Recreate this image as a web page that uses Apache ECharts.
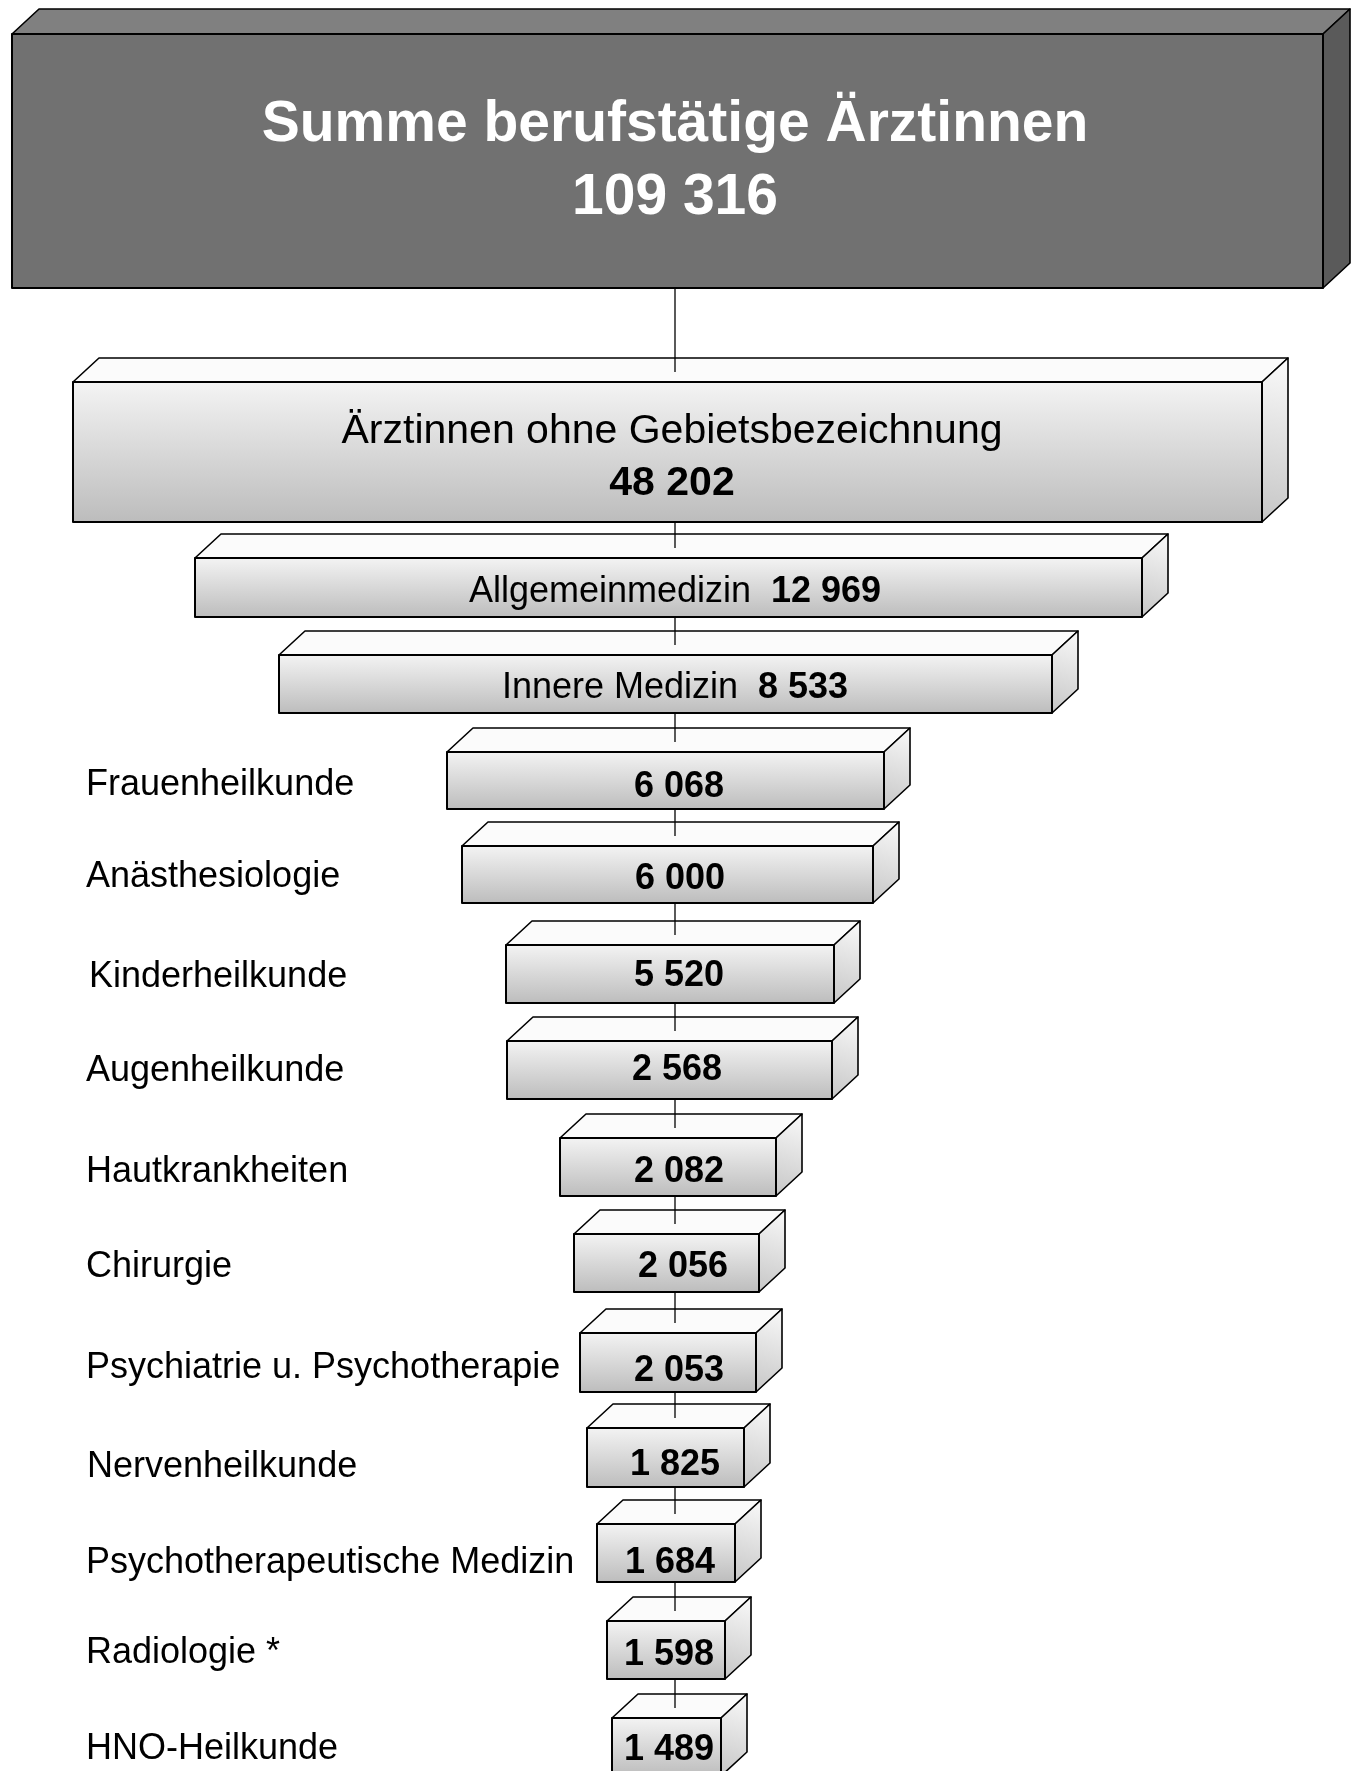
<!DOCTYPE html>
<html>
<head>
<meta charset="utf-8">
<script src="https://cdn.jsdelivr.net/npm/echarts@6/dist/echarts.min.js"></script>
<style>
  html, body { margin: 0; padding: 0; background: #fff; }
  #chart { width: 1360px; height: 1771px; }
</style>
</head>
<body>
<div id="chart"></div>
<script>
// Daten
const totalName = 'Summe berufstätige Ärztinnen'
const totalValue = 109316
const categories = [
  'Ärztinnen ohne Gebietsbezeichnung',
  'Allgemeinmedizin',
  'Innere Medizin',
  'Frauenheilkunde',
  'Anästhesiologie',
  'Kinderheilkunde',
  'Augenheilkunde',
  'Hautkrankheiten',
  'Chirurgie',
  'Psychiatrie u. Psychotherapie',
  'Nervenheilkunde',
  'Psychotherapeutische Medizin',
  'Radiologie *',
  'HNO-Heilkunde'
]
const values = [48202, 12969, 8533, 6068, 6000, 5520, 2568, 2082, 2056, 2053, 1825, 1684, 1598, 1489]

// Layout der Kästen (Pixel-Raster 1360 x 1771), Index 0 = Summe
const boxLeft = [12, 73, 195, 279, 447, 462, 506, 507, 560, 574, 580, 587, 597, 607, 612]
const boxRight = [1323, 1262, 1142, 1052, 884, 873, 834, 832, 776, 759, 756, 744, 735, 725, 721]
const boxTop = [34, 382, 558, 655, 752, 846, 945, 1041, 1138, 1234, 1333, 1428, 1524, 1621, 1718]
const boxBottom = [288, 522, 617, 713, 809, 903, 1003, 1099, 1196, 1292, 1392, 1487, 1582, 1679, 1776]
// Textpositionen (Mitte), Index wie oben
const textX = [675, 672, 675, 675, 679, 680, 679, 677, 679, 683, 679, 675, 670, 669, 669]
const textY = [125, 432, 592, 688, 787, 879, 976, 1070, 1172, 1267, 1371, 1465, 1563, 1655, 1750]
const sideX = [0, 0, 0, 0, 86, 86, 89, 86, 86, 86, 86, 87, 86, 86, 86]
const sideY = [0, 0, 0, 0, 785, 877, 977, 1071, 1172, 1267, 1368, 1467, 1563, 1653, 1749]
const lineX = 675
const font = 'Liberation Sans, Arial, Helvetica, sans-serif'

const fmt = v => String(v).replace(/\B(?=(\d{3})+(?!\d))/g, ' ')

const boxNames = [totalName].concat(categories)
const boxValues = [totalValue].concat(values)

function renderItem(params, api) {
  const i = api.value(0)
  const v = api.value(1)
  const p = (x, y) => api.coord([x, y])
  const L = boxLeft[i], R = boxRight[i], T = boxTop[i], B = boxBottom[i]
  const dx = i === 0 ? 27 : 26
  const dy = i === 0 ? 25 : 24
  const dark = i === 0
  const children = []

  const frontFill = dark ? '#717171' : new echarts.graphic.LinearGradient(0, 0, 0, 1, [
    { offset: 0, color: '#f4f4f4' },
    { offset: 1, color: '#bcbcbc' }
  ])
  const topFill = dark ? '#808080' : '#fbfbfb'
  const sideFill = dark ? '#5a5a5a' : new echarts.graphic.LinearGradient(0, 1, 1, 0, [
    { offset: 0, color: '#c6c6c6' },
    { offset: 1, color: '#fafafa' }
  ])
  const stroke = { stroke: '#000', lineWidth: 1.6, lineJoin: 'round' }

  children.push({
    type: 'polygon',
    shape: { points: [p(L, T), p(L + dx, T - dy), p(R + dx, T - dy), p(R, T)] },
    style: Object.assign({ fill: topFill }, stroke)
  })
  children.push({
    type: 'polygon',
    shape: { points: [p(R, T), p(R + dx, T - dy), p(R + dx, B - dy), p(R, B)] },
    style: Object.assign({ fill: sideFill }, stroke)
  })
  children.push({
    type: 'polygon',
    shape: { points: [p(L, T), p(R, T), p(R, B), p(L, B)] },
    style: Object.assign({ fill: frontFill }, stroke, { lineWidth: 2 })
  })

  // Verbindungslinie zum vorherigen Kasten
  if (i > 0) {
    const a = p(lineX, boxBottom[i - 1])
    const b = p(lineX, T - 10)
    children.push({
      type: 'line',
      shape: { x1: a[0], y1: a[1], x2: b[0], y2: b[1] },
      style: { stroke: '#000', lineWidth: 1.3 }
    })
  }

  const c = p(textX[i], textY[i])
  if (i === 0) {
    const c2 = p(textX[i], textY[i] + 73)
    children.push({ type: 'text', style: { text: boxNames[i], x: c[0], y: c[1], fill: '#fff', font: 'bold 57px ' + font, align: 'center', verticalAlign: 'middle' } })
    children.push({ type: 'text', style: { text: fmt(v), x: c2[0], y: c2[1], fill: '#fff', font: 'bold 57px ' + font, align: 'center', verticalAlign: 'middle' } })
  } else if (i === 1) {
    const c2 = p(textX[i], textY[i] + 52)
    children.push({ type: 'text', style: { text: boxNames[i], x: c[0], y: c[1], fill: '#000', font: '41px ' + font, align: 'center', verticalAlign: 'middle' } })
    children.push({ type: 'text', style: { text: fmt(v), x: c2[0], y: c2[1], fill: '#000', font: 'bold 41px ' + font, align: 'center', verticalAlign: 'middle' } })
  } else if (i <= 3) {
    children.push({
      type: 'text',
      style: {
        text: '{n|' + boxNames[i] + '}  {v|' + fmt(v) + '}',
        x: c[0], y: c[1], align: 'center', verticalAlign: 'middle',
        fill: '#000', fontSize: 36, fontFamily: font,
        rich: {
          n: { fontSize: 36, fontFamily: font, fill: '#000' },
          v: { fontSize: 36, fontFamily: font, fontWeight: 'bold', fill: '#000' }
        }
      }
    })
  } else {
    const l = p(sideX[i], sideY[i])
    children.push({ type: 'text', style: { text: fmt(v), x: c[0], y: c[1], fill: '#000', font: 'bold 36px ' + font, align: 'center', verticalAlign: 'middle' } })
    children.push({ type: 'text', style: { text: boxNames[i], x: l[0], y: l[1], fill: '#000', font: '36px ' + font, align: 'left', verticalAlign: 'middle' } })
  }

  return { type: 'group', children: children }
}

const chart = echarts.init(document.getElementById('chart'), null, { renderer: 'canvas' })
chart.setOption({
  backgroundColor: '#fff',
  animation: false,
  grid: { left: 0, right: 0, top: 0, bottom: 0 },
  xAxis: { type: 'value', min: 0, max: 1360, show: false },
  yAxis: { type: 'value', min: 0, max: 1771, inverse: true, show: false },
  series: [{
    type: 'custom',
    clip: false,
    encode: { x: -1, y: -1 },
    renderItem: renderItem,
    data: boxValues.map((v, i) => [i, v])
  }]
})
window.addEventListener('resize', () => chart.resize())
</script>
</body>
</html>
